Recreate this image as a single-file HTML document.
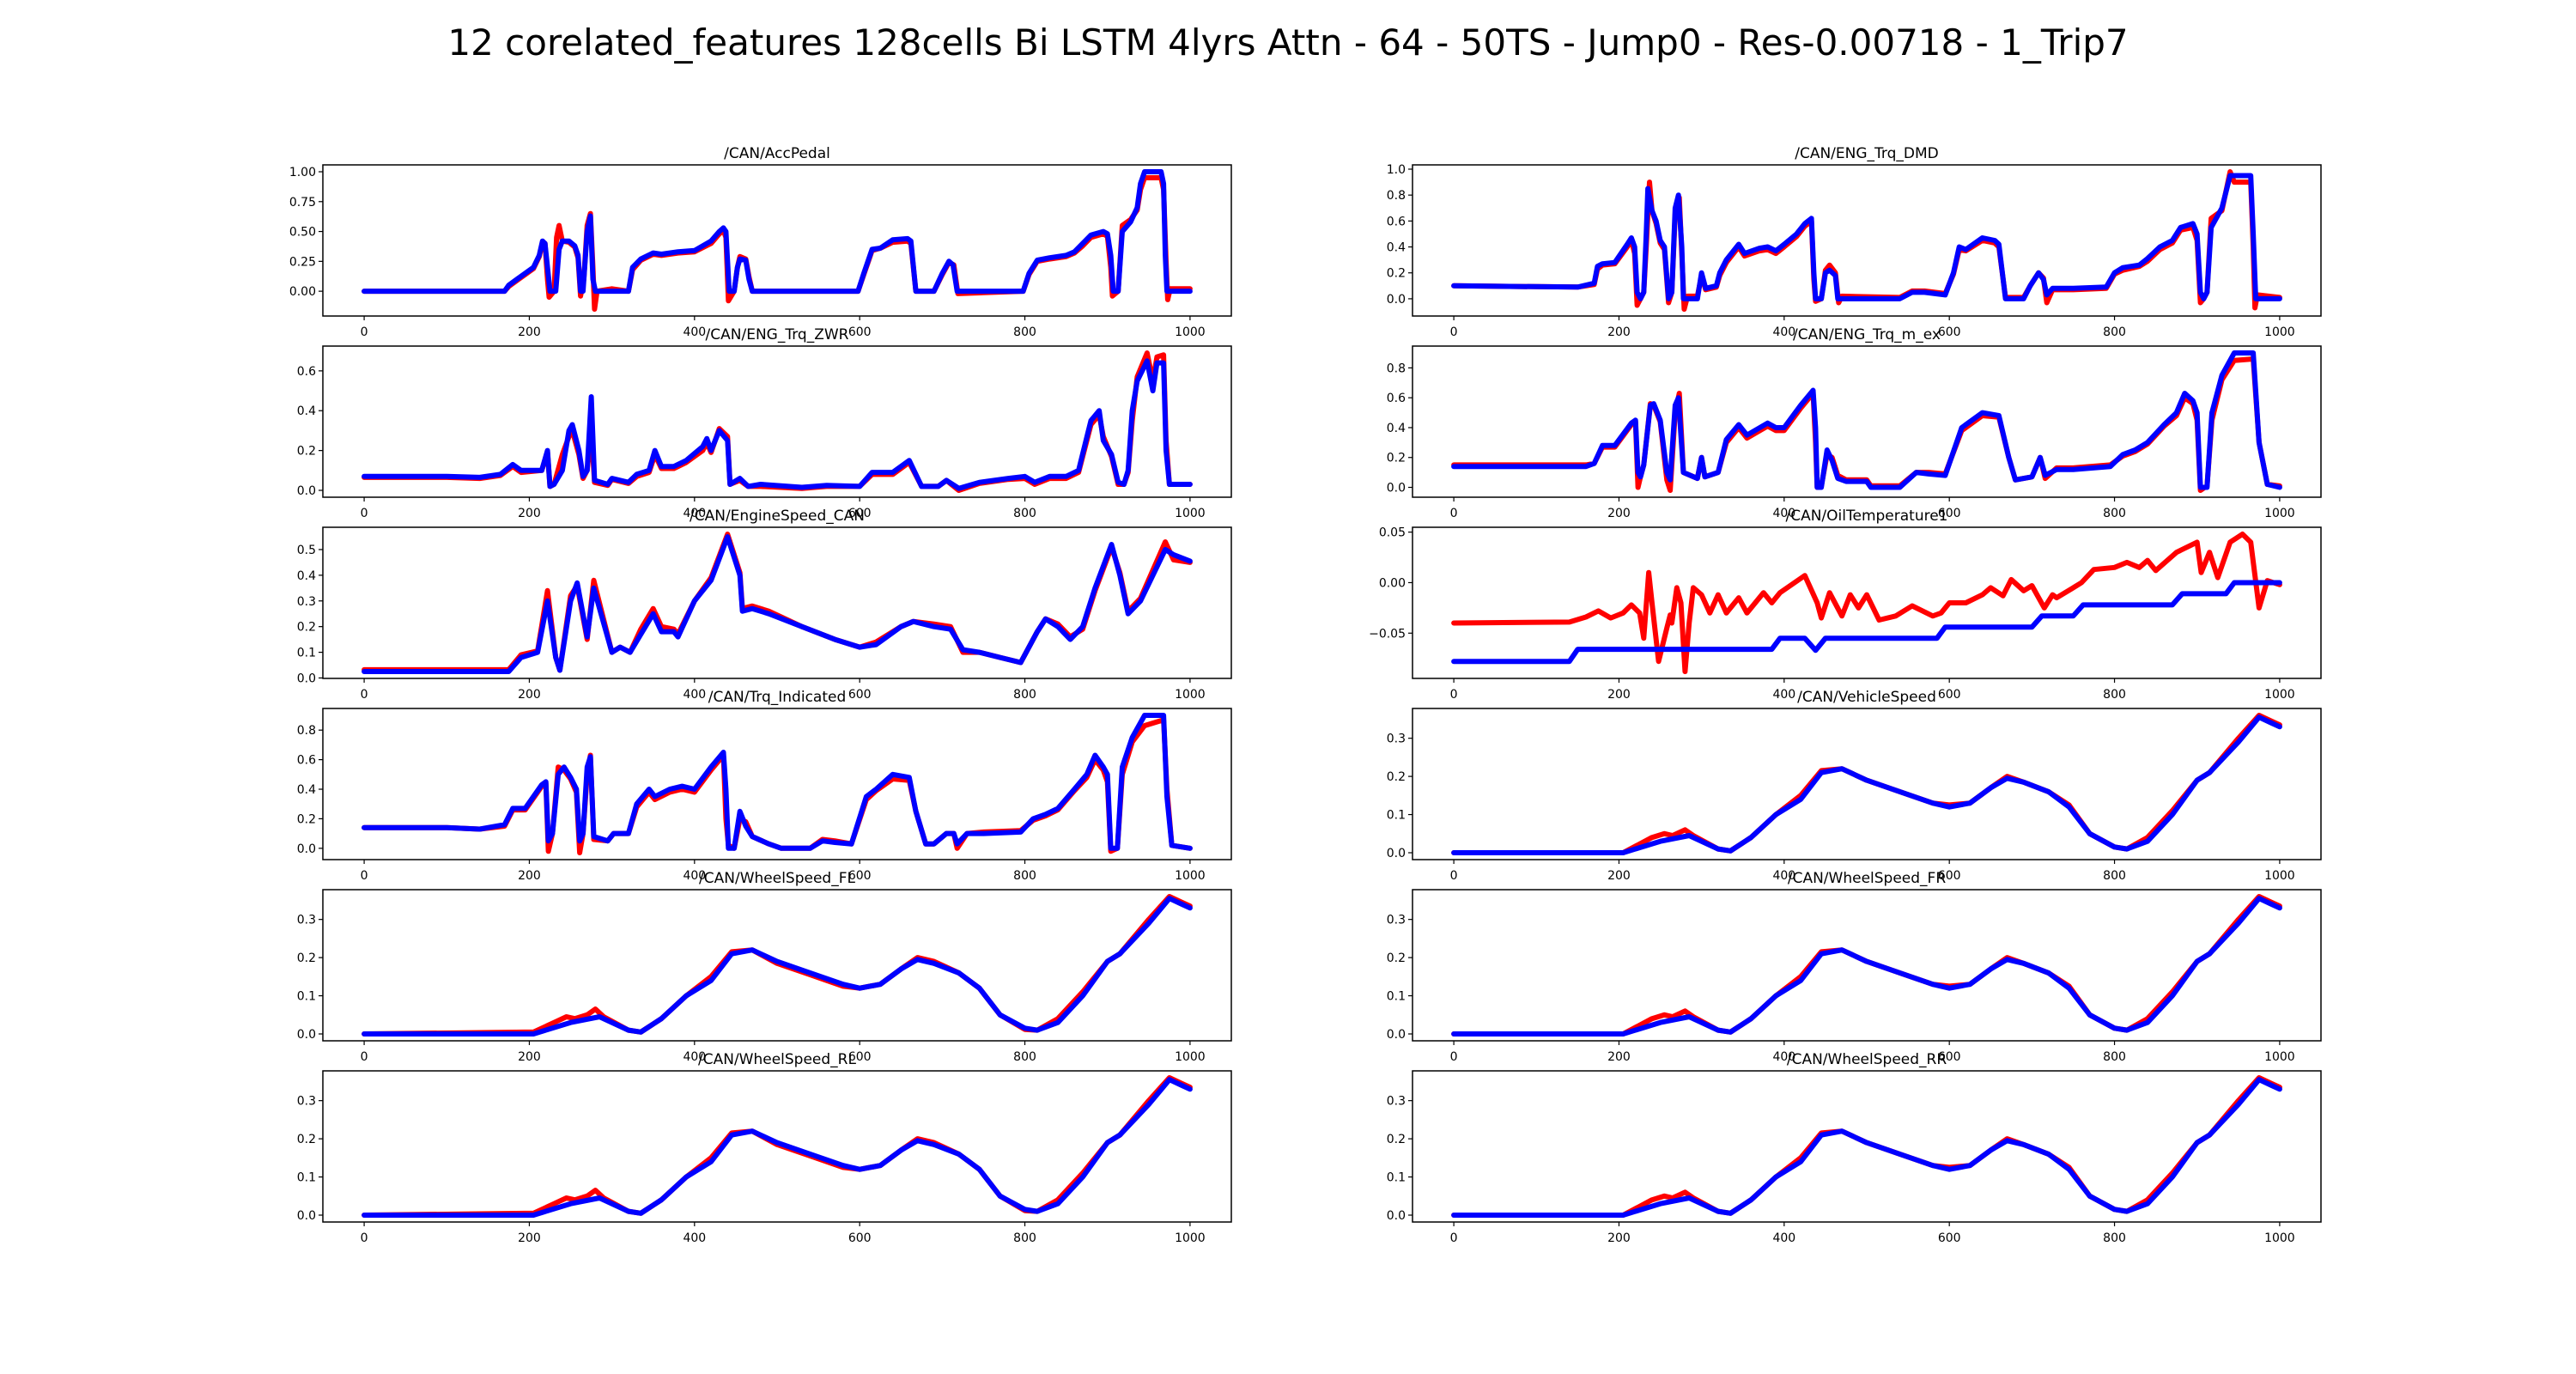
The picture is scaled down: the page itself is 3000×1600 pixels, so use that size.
<!DOCTYPE html>
<html><head><meta charset="utf-8"><style>
html,body{margin:0;padding:0;background:#fff;}
svg{display:block;font-family:"DejaVu Sans","Liberation Sans",sans-serif;}
</style></head><body>
<svg id="fig" width="3000" height="1600" viewBox="0 0 3000 1600" xmlns="http://www.w3.org/2000/svg">
<rect width="3000" height="1600" fill="#fff"/>
<text x="1500" y="64" font-size="42" text-anchor="middle" fill="#000">12 corelated_features 128cells Bi LSTM 4lyrs Attn - 64 - 50TS - Jump0 - Res-0.00718 - 1_Trip7</text>
</svg>
<script>
const xTicks = [0,200,400,600,800,1000];
const panelTitles = ["/CAN/AccPedal","/CAN/ENG_Trq_DMD","/CAN/ENG_Trq_ZWR","/CAN/ENG_Trq_m_ex","/CAN/EngineSpeed_CAN","/CAN/OilTemperature1","/CAN/Trq_Indicated","/CAN/VehicleSpeed","/CAN/WheelSpeed_FL","/CAN/WheelSpeed_FR","/CAN/WheelSpeed_RL","/CAN/WheelSpeed_RR"];
const yTicksAcc = [0,0.25,0.5,0.75,1.0];
const yTicksDmd = [0,0.2,0.4,0.6,0.8,1.0];
const yTicksZwr = [0,0.2,0.4,0.6];
const yTicksMex = [0,0.2,0.4,0.6,0.8];
const yTicksEng = [0,0.1,0.2,0.3,0.4,0.5];
const yTicksOil = [-0.05,0,0.05];
const yTicksTrq = [0,0.2,0.4,0.6,0.8];
const yTicksSpd = [0,0.1,0.2,0.3];

const accBlue = [[0,0],[170,0],[175,0.05],[185,0.1],[195,0.15],[205,0.2],[212,0.3],[216,0.42],[219,0.4],[222,0.2],[225,0],[232,0],[236,0.35],[240,0.42],[248,0.42],[255,0.38],[259,0.3],[262,0],[265,0],[270,0.5],[274,0.63],[277,0.1],[280,0],[320,0],[325,0.2],[335,0.27],[350,0.32],[360,0.31],[380,0.33],[400,0.34],[420,0.42],[430,0.5],[435,0.53],[438,0.5],[442,0],[448,0],[452,0.2],[455,0.27],[462,0.26],[466,0.1],[470,0],[598,0],[605,0.15],[615,0.35],[625,0.36],[640,0.43],[658,0.44],[662,0.42],[668,0],[690,0],[700,0.15],[708,0.25],[713,0.22],[718,0],[798,0],[805,0.15],[815,0.26],[830,0.28],[850,0.3],[860,0.33],[870,0.4],[880,0.47],[895,0.5],[900,0.48],[904,0.3],[907,0],[913,0],[918,0.5],[928,0.58],[936,0.7],[940,0.9],[945,1],[965,1],[968,0.9],[970,0.3],[972,0],[1000,0]];
const accRed = [[0,0],[170,0],[175,0.04],[185,0.09],[195,0.14],[205,0.19],[212,0.29],[216,0.41],[219,0.4],[222,0.1],[224,-0.05],[230,0],[233,0.45],[236,0.55],[240,0.42],[248,0.41],[255,0.37],[259,0.28],[262,-0.04],[266,0.1],[270,0.55],[274,0.65],[277,0.2],[279,-0.15],[282,0],[300,0.02],[320,0],[325,0.18],[335,0.26],[350,0.31],[360,0.3],[380,0.32],[400,0.33],[420,0.4],[430,0.48],[435,0.51],[438,0.45],[441,-0.08],[448,0],[452,0.2],[455,0.29],[462,0.27],[466,0.12],[470,0],[598,0],[605,0.14],[615,0.34],[625,0.36],[640,0.41],[658,0.42],[662,0.4],[668,0],[690,0],[700,0.14],[708,0.24],[714,0.22],[719,-0.02],[798,0],[805,0.14],[815,0.25],[830,0.27],[850,0.29],[860,0.32],[870,0.38],[880,0.45],[895,0.48],[900,0.46],[904,0.2],[906,-0.04],[913,0],[918,0.55],[928,0.6],[936,0.68],[940,0.85],[945,0.95],[965,0.95],[968,0.85],[971,0.25],[973,-0.07],[976,0.02],[1000,0.02]];

const dmdBlue = [[0,0.1],[150,0.09],[170,0.12],[174,0.25],[180,0.27],[195,0.28],[210,0.42],[215,0.47],[219,0.4],[222,0.05],[226,0],[230,0.05],[233,0.5],[235,0.85],[240,0.68],[245,0.6],[250,0.45],[255,0.4],[260,0],[264,0.05],[268,0.7],[272,0.8],[276,0.4],[278,0],[295,0],[300,0.2],[305,0.08],[318,0.1],[322,0.2],[330,0.3],[345,0.42],[352,0.35],[370,0.39],[380,0.4],[390,0.37],[400,0.42],[415,0.5],[425,0.58],[433,0.62],[436,0.2],[438,0],[445,0],[450,0.2],[455,0.22],[462,0.18],[465,0],[540,0],[555,0.05],[570,0.05],[595,0.03],[605,0.2],[612,0.4],[620,0.38],[640,0.47],[655,0.45],[660,0.42],[668,0],[690,0],[698,0.1],[708,0.2],[714,0.15],[718,0.03],[725,0.08],[750,0.08],[790,0.09],[800,0.2],[810,0.24],[830,0.26],[840,0.31],[855,0.4],[870,0.45],[880,0.55],[895,0.58],[900,0.5],[904,0.05],[908,0],[912,0.05],[917,0.55],[930,0.7],[940,0.95],[965,0.95],[968,0.5],[971,0],[1000,0]];
const dmdRed = [[0,0.1],[150,0.09],[170,0.11],[174,0.23],[180,0.26],[195,0.27],[210,0.4],[215,0.45],[219,0.35],[222,-0.05],[226,0],[230,0.05],[233,0.4],[237,0.9],[240,0.68],[245,0.58],[250,0.43],[255,0.38],[260,-0.03],[264,0.05],[268,0.65],[273,0.78],[276,0.35],[279,-0.08],[283,0.02],[295,0.02],[300,0.18],[305,0.07],[318,0.09],[322,0.18],[330,0.28],[345,0.4],[352,0.33],[370,0.37],[380,0.38],[390,0.35],[400,0.4],[415,0.48],[425,0.56],[433,0.6],[436,0.15],[438,-0.02],[445,0],[450,0.22],[455,0.26],[462,0.2],[466,-0.03],[470,0.02],[540,0.01],[555,0.06],[570,0.06],[595,0.04],[605,0.19],[612,0.38],[620,0.37],[640,0.45],[655,0.43],[660,0.4],[668,0.01],[690,0.01],[698,0.1],[708,0.2],[714,0.16],[718,-0.03],[725,0.07],[750,0.07],[790,0.08],[800,0.19],[810,0.22],[830,0.25],[840,0.29],[855,0.38],[870,0.43],[880,0.53],[895,0.55],[900,0.45],[904,-0.03],[908,0],[912,0.05],[917,0.62],[930,0.68],[940,0.98],[945,0.9],[965,0.9],[968,0.4],[970,-0.07],[973,0.03],[1000,0.01]];

const zwrBlue = [[0,0.07],[100,0.07],[140,0.065],[165,0.08],[180,0.13],[190,0.1],[215,0.1],[222,0.2],[225,0.02],[230,0.03],[240,0.1],[248,0.3],[252,0.33],[260,0.2],[265,0.07],[270,0.1],[275,0.47],[279,0.05],[295,0.03],[300,0.06],[320,0.04],[330,0.08],[345,0.1],[352,0.2],[360,0.12],[375,0.12],[390,0.15],[410,0.22],[415,0.26],[420,0.2],[430,0.3],[440,0.25],[443,0.03],[455,0.06],[465,0.02],[480,0.03],[530,0.015],[560,0.025],[600,0.02],[615,0.09],[640,0.09],[660,0.15],[675,0.02],[695,0.02],[705,0.05],[720,0.01],[745,0.04],[780,0.06],[800,0.07],[812,0.04],[830,0.07],[850,0.07],[865,0.1],[880,0.35],[890,0.4],[895,0.25],[905,0.18],[913,0.04],[920,0.03],[925,0.1],[930,0.4],[936,0.55],[948,0.65],[955,0.5],[960,0.64],[968,0.64],[971,0.2],[975,0.03],[1000,0.03]];
const zwrRed = [[0,0.065],[100,0.065],[140,0.06],[165,0.075],[180,0.12],[190,0.09],[215,0.1],[222,0.19],[225,0.02],[230,0.03],[240,0.18],[248,0.27],[252,0.3],[260,0.18],[265,0.06],[270,0.1],[275,0.3],[279,0.04],[295,0.025],[300,0.055],[320,0.035],[330,0.07],[345,0.09],[352,0.18],[360,0.11],[375,0.11],[390,0.14],[410,0.2],[415,0.24],[420,0.19],[430,0.31],[440,0.27],[443,0.03],[455,0.05],[465,0.02],[480,0.02],[530,0.01],[560,0.02],[600,0.02],[615,0.08],[640,0.08],[660,0.14],[675,0.02],[695,0.02],[705,0.05],[720,0.0],[745,0.035],[780,0.055],[800,0.06],[812,0.03],[830,0.06],[850,0.06],[865,0.09],[880,0.33],[890,0.38],[895,0.27],[905,0.17],[913,0.03],[920,0.03],[925,0.09],[930,0.35],[936,0.57],[948,0.69],[955,0.55],[960,0.67],[968,0.68],[971,0.25],[975,0.03],[1000,0.03]];

const mexBlue = [[0,0.14],[160,0.14],[170,0.16],[180,0.28],[195,0.28],[215,0.43],[220,0.45],[223,0.1],[226,0.07],[230,0.15],[238,0.55],[242,0.56],[250,0.45],[258,0.1],[262,0.05],[268,0.55],[272,0.6],[278,0.1],[295,0.06],[300,0.2],[304,0.07],[320,0.1],[330,0.32],[345,0.42],[355,0.35],[380,0.43],[390,0.4],[400,0.4],[420,0.55],[435,0.65],[438,0.4],[440,0],[445,0],[452,0.25],[458,0.18],[465,0.06],[475,0.04],[500,0.04],[505,0],[540,0],[560,0.1],[575,0.09],[595,0.08],[615,0.4],[640,0.5],[660,0.48],[672,0.2],[680,0.05],[700,0.07],[710,0.2],[716,0.08],[730,0.12],[750,0.12],[795,0.14],[810,0.22],[825,0.25],[840,0.3],[860,0.42],[875,0.5],[885,0.63],[895,0.58],[900,0.5],[904,0],[912,0],[918,0.5],[930,0.75],[945,0.9],[968,0.9],[975,0.3],[985,0.02],[1000,0]];
const mexRed = [[0,0.15],[160,0.15],[170,0.16],[180,0.27],[195,0.27],[215,0.42],[220,0.44],[223,0.0],[226,0.07],[230,0.15],[238,0.56],[242,0.55],[250,0.44],[258,0.05],[262,-0.02],[268,0.5],[273,0.63],[278,0.1],[295,0.06],[300,0.2],[304,0.07],[320,0.1],[330,0.3],[345,0.4],[355,0.33],[380,0.41],[390,0.38],[400,0.38],[420,0.53],[435,0.63],[438,0.3],[440,0],[445,0.01],[452,0.22],[458,0.2],[465,0.08],[475,0.05],[500,0.05],[505,0.01],[540,0.01],[560,0.1],[575,0.1],[595,0.09],[615,0.38],[640,0.48],[660,0.47],[672,0.2],[680,0.05],[700,0.07],[710,0.2],[716,0.06],[730,0.13],[750,0.13],[795,0.15],[810,0.21],[825,0.24],[840,0.29],[860,0.41],[875,0.48],[885,0.6],[895,0.56],[900,0.45],[904,-0.02],[912,0.01],[918,0.45],[930,0.72],[945,0.85],[968,0.86],[975,0.3],[985,0.02],[1000,0.01]];

const engBlue = [[0,0.025],[175,0.025],[190,0.08],[210,0.1],[222,0.3],[232,0.08],[237,0.03],[250,0.3],[258,0.37],[270,0.16],[278,0.35],[300,0.1],[310,0.12],[322,0.1],[335,0.17],[350,0.25],[360,0.18],[375,0.18],[380,0.16],[400,0.3],[420,0.38],[440,0.55],[455,0.4],[458,0.26],[470,0.27],[490,0.25],[530,0.2],[570,0.15],[600,0.12],[620,0.13],[650,0.2],[665,0.22],[690,0.2],[710,0.19],[725,0.11],[745,0.1],[770,0.08],[795,0.06],[815,0.18],[825,0.23],[840,0.2],[855,0.15],[870,0.2],[885,0.35],[905,0.52],[915,0.4],[925,0.25],[940,0.3],[970,0.5],[980,0.48],[1000,0.455]];
const engRed = [[0,0.032],[175,0.032],[190,0.09],[210,0.105],[222,0.34],[232,0.08],[237,0.03],[250,0.32],[258,0.36],[270,0.15],[278,0.38],[300,0.1],[310,0.12],[322,0.1],[335,0.19],[350,0.27],[360,0.2],[375,0.19],[380,0.17],[400,0.3],[420,0.39],[440,0.56],[455,0.41],[458,0.27],[470,0.28],[490,0.26],[530,0.2],[570,0.15],[600,0.12],[620,0.14],[650,0.2],[665,0.22],[690,0.21],[710,0.2],[725,0.1],[745,0.1],[770,0.08],[795,0.06],[815,0.18],[825,0.23],[840,0.21],[855,0.16],[870,0.19],[885,0.34],[905,0.51],[915,0.41],[925,0.26],[940,0.31],[970,0.53],[980,0.46],[1000,0.45]];

const oilBlue = [[0,-0.078],[140,-0.078],[150,-0.066],[385,-0.066],[395,-0.055],[425,-0.055],[438,-0.067],[450,-0.055],[585,-0.055],[595,-0.044],[700,-0.044],[712,-0.033],[750,-0.033],[762,-0.022],[870,-0.022],[882,-0.011],[935,-0.011],[945,0],[1000,0]];
const oilRed = [[0,-0.04],[140,-0.039],[160,-0.034],[175,-0.028],[190,-0.035],[205,-0.03],[215,-0.022],[225,-0.03],[230,-0.055],[236,0.01],[240,-0.02],[248,-0.078],[258,-0.045],[262,-0.032],[264,-0.04],[270,-0.005],[275,-0.02],[280,-0.088],[285,-0.04],[290,-0.005],[300,-0.012],[310,-0.03],[320,-0.012],[330,-0.03],[345,-0.015],[355,-0.03],[375,-0.01],[385,-0.02],[395,-0.01],[425,0.007],[440,-0.02],[445,-0.035],[455,-0.01],[470,-0.033],[480,-0.012],[490,-0.025],[500,-0.012],[515,-0.037],[535,-0.033],[555,-0.023],[580,-0.033],[590,-0.03],[600,-0.02],[620,-0.02],[640,-0.012],[650,-0.005],[665,-0.013],[675,0.003],[690,-0.008],[700,-0.003],[715,-0.025],[725,-0.012],[730,-0.015],[750,-0.005],[760,0],[775,0.013],[800,0.015],[815,0.02],[830,0.015],[840,0.022],[850,0.012],[875,0.03],[900,0.04],[905,0.01],[915,0.03],[925,0.005],[940,0.04],[955,0.048],[965,0.04],[975,-0.025],[985,0.002],[1000,-0.002]];

const trqBlue = [[0,0.14],[100,0.14],[140,0.13],[170,0.16],[180,0.27],[195,0.27],[215,0.43],[220,0.45],[223,0.05],[228,0.1],[235,0.5],[242,0.55],[250,0.48],[257,0.4],[261,0.05],[265,0.1],[270,0.55],[274,0.62],[278,0.08],[295,0.05],[302,0.1],[320,0.1],[330,0.3],[345,0.4],[352,0.35],[370,0.4],[385,0.42],[400,0.4],[420,0.55],[435,0.65],[438,0.4],[441,0],[448,0],[455,0.25],[462,0.15],[470,0.08],[490,0.03],[505,0],[540,0],[555,0.05],[570,0.04],[590,0.03],[608,0.35],[620,0.4],[640,0.5],[660,0.48],[668,0.25],[680,0.03],[690,0.03],[705,0.1],[714,0.1],[718,0.03],[730,0.1],[750,0.1],[795,0.11],[810,0.2],[825,0.23],[840,0.27],[860,0.4],[875,0.5],[885,0.63],[895,0.55],[900,0.5],[904,0],[912,0],[918,0.55],[930,0.75],[945,0.9],[968,0.9],[972,0.35],[978,0.02],[1000,0]];
const trqRed = [[0,0.14],[100,0.14],[140,0.13],[170,0.15],[180,0.26],[195,0.26],[215,0.42],[220,0.44],[223,-0.02],[228,0.1],[235,0.55],[242,0.53],[250,0.47],[257,0.38],[261,-0.03],[265,0.1],[270,0.5],[274,0.63],[278,0.06],[295,0.05],[302,0.1],[320,0.1],[330,0.28],[345,0.38],[352,0.33],[370,0.38],[385,0.4],[400,0.38],[420,0.53],[435,0.63],[438,0.2],[441,0.02],[448,0],[455,0.2],[462,0.18],[470,0.08],[490,0.03],[505,0],[540,0],[555,0.06],[570,0.05],[590,0.03],[608,0.33],[620,0.39],[640,0.47],[660,0.46],[668,0.25],[680,0.03],[690,0.03],[705,0.1],[714,0.1],[718,0.0],[730,0.1],[750,0.11],[795,0.12],[810,0.19],[825,0.22],[840,0.26],[860,0.39],[875,0.48],[885,0.6],[895,0.53],[900,0.45],[904,-0.02],[912,0],[918,0.5],[930,0.72],[945,0.83],[968,0.87],[972,0.4],[978,0.02],[1000,0]];

const vsBlue = [[0,0],[205,0],[250,0.03],[285,0.045],[320,0.01],[335,0.005],[360,0.04],[390,0.1],[420,0.14],[445,0.21],[470,0.22],[500,0.19],[540,0.16],[580,0.13],[600,0.12],[625,0.13],[650,0.17],[670,0.195],[690,0.185],[720,0.16],[745,0.12],[770,0.05],[800,0.015],[815,0.01],[840,0.03],[870,0.1],[900,0.19],[915,0.21],[950,0.29],[975,0.355],[990,0.34],[1000,0.33]];
const vsRed = [[0,0],[205,0],[240,0.04],[255,0.05],[265,0.045],[280,0.06],[290,0.045],[320,0.01],[335,0.005],[360,0.04],[390,0.1],[420,0.15],[445,0.215],[470,0.22],[500,0.19],[540,0.16],[580,0.13],[600,0.125],[625,0.13],[650,0.17],[670,0.2],[690,0.185],[720,0.16],[745,0.125],[770,0.05],[800,0.015],[815,0.01],[840,0.04],[870,0.11],[900,0.19],[915,0.21],[950,0.3],[975,0.36],[990,0.345],[1000,0.335]];
const flBlue = vsBlue;
const flRed = [[0,0],[205,0.005],[230,0.03],[245,0.045],[255,0.04],[270,0.05],[280,0.065],[290,0.045],[320,0.01],[335,0.005],[360,0.04],[390,0.1],[420,0.15],[445,0.215],[470,0.22],[500,0.185],[540,0.155],[580,0.125],[600,0.12],[625,0.13],[650,0.17],[670,0.2],[690,0.19],[720,0.16],[745,0.12],[770,0.05],[800,0.012],[815,0.01],[840,0.04],[870,0.11],[900,0.19],[915,0.21],[950,0.3],[975,0.36],[990,0.345],[1000,0.335]];
const frBlue = vsBlue;
const frRed = vsRed;
const rlBlue = vsBlue;
const rlRed = flRed;
const rrBlue = vsBlue;
const rrRed = vsRed;

const svg = document.getElementById('fig');
const NS = 'http://www.w3.org/2000/svg';
function mk(tag, attrs){const e=document.createElementNS(NS,tag);for(const k in attrs)e.setAttribute(k,attrs[k]);return e;}

const panels = [
 {t:0,red:accRed,blue:accBlue,yt:yTicksAcc,dec:2},
 {t:1,red:dmdRed,blue:dmdBlue,yt:yTicksDmd,dec:1},
 {t:2,red:zwrRed,blue:zwrBlue,yt:yTicksZwr,dec:1},
 {t:3,red:mexRed,blue:mexBlue,yt:yTicksMex,dec:1},
 {t:4,red:engRed,blue:engBlue,yt:yTicksEng,dec:1},
 {t:5,red:oilRed,blue:oilBlue,yt:yTicksOil,dec:2},
 {t:6,red:trqRed,blue:trqBlue,yt:yTicksTrq,dec:1},
 {t:7,red:vsRed,blue:vsBlue,yt:yTicksSpd,dec:1},
 {t:8,red:flRed,blue:flBlue,yt:yTicksSpd,dec:1},
 {t:9,red:frRed,blue:frBlue,yt:yTicksSpd,dec:1},
 {t:10,red:rlRed,blue:rlBlue,yt:yTicksSpd,dec:1},
 {t:11,red:rrRed,blue:rrBlue,yt:yTicksSpd,dec:1}
];
const colX=[376,1645], W=1058, rowY0=192, pitch=211, H=176;

panels.forEach((p,i)=>{
  const col=i%2,row=Math.floor(i/2);
  const L=colX[col],T=rowY0+row*pitch,R=L+W,B=T+H;
  const g=mk('g',{});
  
  
  svg.appendChild(g);
  const all=p.red.concat(p.blue).map(d=>d[1]);
  let mn=Math.min(...all),mx=Math.max(...all);const pad=(mx-mn)*0.05;mn-=pad;mx+=pad;
  const sx=v=>L+(v+50)/1100*W;
  const sy=v=>B-(v-mn)/(mx-mn)*H;
  const title=mk('text',{x:(L+R)/2,y:T-8,'font-size':17,'text-anchor':'middle',fill:'#000'});
  title.textContent=panelTitles[p.t];
  
  
  g.appendChild(title);
  [[p.red,'#ff0000','series-actual'],[p.blue,'#0000ff','series-predicted']].forEach(([d,c,nm])=>{
    const pts=d.map(q=>sx(q[0]).toFixed(1)+','+sy(q[1]).toFixed(1)).join(' ');
    const pl=mk('polyline',{points:pts,fill:'none',stroke:c,'stroke-width':6,'stroke-linejoin':'round','stroke-linecap':'round'});
    
    
    g.appendChild(pl);
  });
  const frame=mk('rect',{x:L,y:T,width:W,height:H,fill:'none',stroke:'#000','stroke-width':1.5});
  
  
  g.appendChild(frame);
  xTicks.forEach(v=>{
    const x=sx(v);
    g.appendChild(mk('line',{x1:x,y1:B,x2:x,y2:B+5,stroke:'#000','stroke-width':1.2}));
    const t=mk('text',{x:x,y:B+23,'font-size':14,'text-anchor':'middle',fill:'#000'});
    t.textContent=String(v);
    
    
    g.appendChild(t);
  });
  p.yt.forEach(v=>{
    const y=sy(v);
    g.appendChild(mk('line',{x1:L-5,y1:y,x2:L,y2:y,stroke:'#000','stroke-width':1.2}));
    const t=mk('text',{x:L-8,y:y+5,'font-size':14,'text-anchor':'end',fill:'#000'});
    let s=Math.abs(v).toFixed(p.dec);if(v<0)s='\u2212'+s;
    t.textContent=s;
    
    
    g.appendChild(t);
  });
});
</script>
</body></html>
